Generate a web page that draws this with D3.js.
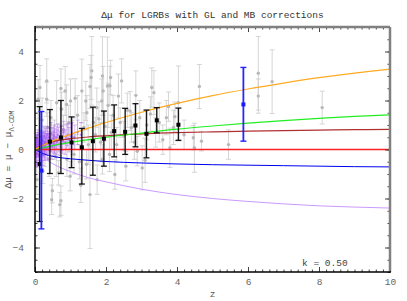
<!DOCTYPE html>
<html>
<head>
<meta charset="utf-8">
<script src="https://cdn.jsdelivr.net/npm/d3@7"></script>
<style>
  body { margin: 0; background: #fff; }
  svg text { font-family: "Liberation Mono", "DejaVu Sans Mono", monospace; }
</style>
</head>
<body>
<svg id="chart"></svg>
<script>
// model curves
const curveZ      = [0, 0.1, 0.25, 0.5, 0.75, 1, 1.5, 2, 3, 4, 5, 6, 7, 8, 9, 10];
const orangeMu    = [0, 0.08, 0.19, 0.35, 0.49, 0.62, 0.87, 1.10, 1.52, 1.88, 2.20, 2.47, 2.71, 2.93, 3.12, 3.28];
const greenMu     = [0, 0.03, 0.08, 0.16, 0.23, 0.29, 0.40, 0.50, 0.67, 0.83, 0.96, 1.08, 1.18, 1.27, 1.35, 1.41];
const brownMu     = [0, 0.10, 0.20, 0.32, 0.39, 0.44, 0.51, 0.56, 0.64, 0.69, 0.72, 0.75, 0.77, 0.79, 0.81, 0.82];
const redMu       = [0, 0, 0, 0, 0, 0, 0, 0, 0, 0, 0, 0, 0, 0, 0, 0];
const blueMu      = [0, -0.08, -0.18, -0.28, -0.34, -0.38, -0.44, -0.49, -0.55, -0.59, -0.62, -0.64, -0.66, -0.68, -0.70, -0.71];
const violetMu    = [0, -0.14, -0.35, -0.58, -0.76, -0.90, -1.15, -1.32, -1.62, -1.84, -2.00, -2.12, -2.22, -2.30, -2.35, -2.39];

// individual GRBs (gray)
const grayZ   = [0.03, 0.05, 0.09, 0.14, 0.22, 0.33, 0.33, 0.35, 0.45, 0.49, 0.47, 0.55, 0.61, 0.66, 0.70, 0.73, 0.73, 0.75, 0.80, 0.85,
                 0.89, 0.95, 0.99, 1.00, 1.05, 1.13, 1.20, 1.25, 1.29, 1.32, 1.38, 1.43, 1.46, 1.50, 1.55, 1.55, 1.58, 1.60, 1.65, 1.70,
                 1.74, 1.75, 1.80, 1.85, 1.88, 1.90, 1.92, 1.97, 2.04, 2.06, 2.11, 2.13, 2.15, 2.20, 2.25, 2.30, 2.35, 2.40, 2.44, 2.50,
                 2.56, 2.60, 2.68, 2.72, 2.80, 2.84, 2.88, 2.95, 3.02, 3.10, 3.15, 3.25, 3.29, 3.35, 3.40, 3.50, 3.60, 3.70, 3.76, 3.80,
                 3.90, 3.94, 4.04, 4.20, 4.46, 4.49, 4.63, 4.69, 5.45, 6.29, 6.29, 6.68, 8.09, 0.10, 0.20, 0.28, 0.40, 0.60, 0.90, 1.10,
                 1.45, 1.90, 2.10];
const grayMu  = [-0.70, -1.23, 2.05, 2.53, -0.89, 2.80, 2.05, 0.90, 1.30, -1.68, -2.05, 0.40, 1.91, -0.95, -2.25, -2.09, 2.49, 1.64, 0.80, 2.39,
                 1.84, 1.10, -1.09, 1.98, 0.50, 2.09, 1.40, -0.50, -1.46, 2.39, 0.90, 1.98, 1.50, 0.20, -1.84, 2.57, 2.94, 3.21, 1.10, 0.60,
                 1.71, -1.23, 1.25, 0.30, 1.98, 3.00, 2.39, 0.95, 2.59, 1.80, 2.60, 2.94, 0.70, 1.40, -1.02, 0.20, 2.18, 1.10, 2.80, 0.55,
                 -0.68, 1.60, 1.57, 0.90, 0.30, 2.21, -0.07, 1.30, -0.75, -0.44, 1.00, 1.45, 2.53, 2.32, 0.70, 1.10, 0.40, 1.30, 1.75, 0.07,
                 0.90, 1.34, 1.91, 0.60, 0.48, 0.07, 2.57, 0.34, 0.20, 3.11, 2.18, 2.77, 1.71, 0.60, 1.20, 0.10, -0.40, -0.30, -0.40, -0.20,
                 -0.60, -0.40, -0.20];
const grayErr = [0.5, 0.6, 0.8, 0.9, 0.5, 0.9, 0.7, 0.6, 0.7, 0.5, 0.6, 0.8, 0.9, 0.5, 0.5, 0.6, 0.8, 0.7, 0.6, 1.0,
                 0.8, 0.7, 0.6, 0.9, 0.7, 0.8, 0.8, 0.7, 0.7, 1.3, 0.6, 0.8, 0.7, 0.8, 2.2, 0.9, 0.9, 1.4, 0.6, 0.7,
                 0.8, 0.6, 0.7, 0.8, 0.9, 1.6, 1.0, 0.6, 2.0, 0.9, 0.8, 0.7, 0.7, 0.8, 0.6, 0.7, 0.9, 0.6, 0.9, 0.6,
                 0.6, 0.7, 0.8, 0.6, 0.7, 1.0, 0.6, 0.7, 0.9, 0.9, 0.6, 0.7, 0.8, 0.9, 0.6, 0.8, 0.6, 0.7, 0.6, 0.8,
                 0.7, 0.6, 1.5, 0.6, 0.5, 1.0, 0.9, 0.4, 0.6, 1.5, 0.7, 1.3, 0.67, 0.9, 0.9, 0.8, 0.7, 0.8, 0.7, 0.8,
                 0.6, 0.6, 0.7];

// low-z calibrators (violet)
const violetZ   = [0.01, 0.015, 0.02, 0.025, 0.03, 0.035, 0.04, 0.045, 0.05, 0.06, 0.07, 0.08, 0.09, 0.10, 0.11, 0.12, 0.13, 0.14, 0.15, 0.16,
                   0.17, 0.18, 0.19, 0.20, 0.21, 0.22, 0.23, 0.24, 0.25, 0.26, 0.27, 0.28, 0.30, 0.31, 0.32, 0.34, 0.35, 0.37, 0.38, 0.40,
                   0.42, 0.43, 0.45, 0.46, 0.48, 0.50, 0.52, 0.53, 0.55, 0.57, 0.60, 0.62, 0.64, 0.67, 0.70, 0.73, 0.75, 0.78, 0.81, 0.85,
                   0.88, 0.92, 0.96, 1.01, 1.05, 1.12, 1.20, 1.30];
const violetPtMu = [0.05, -0.20, 0.25, -0.10, 0.15, 0.40, -0.30, 0.10, 0.30, -0.15, 0.20, 0.45, -0.05, 0.10, 0.35, -0.25, 0.15, 0.05, 0.50, -0.10,
                   0.25, 0.30, 0.00, 0.40, 0.15, -0.20, 0.35, 0.10, 0.55, 0.20, -0.05, 0.30, 0.45, 0.10, 0.25, 0.60, 0.05, 0.35, 0.20, 0.50,
                   0.15, 0.40, 0.30, 0.65, 0.10, 0.45, 0.25, 0.55, 0.35, 0.20, 0.50, 0.30, 0.60, 0.40, 0.25, 0.55, 0.45, 0.35, 0.70, 0.30,
                   0.50, 0.60, 0.40, 0.55, 0.65, 0.50, 0.70, 0.60];
const violetErr = [0.35, 0.40, 0.30, 0.45, 0.35, 0.30, 0.40, 0.35, 0.30, 0.45, 0.40, 0.35, 0.40, 0.30, 0.35, 0.45, 0.40, 0.35, 0.30, 0.40,
                   0.35, 0.40, 0.45, 0.35, 0.40, 0.45, 0.35, 0.40, 0.40, 0.45, 0.40, 0.45, 0.40, 0.45, 0.40, 0.35, 0.45, 0.40, 0.45, 0.40,
                   0.50, 0.45, 0.40, 0.45, 0.50, 0.45, 0.50, 0.45, 0.50, 0.50, 0.45, 0.50, 0.45, 0.50, 0.50, 0.45, 0.50, 0.50, 0.45, 0.50,
                   0.50, 0.45, 0.50, 0.50, 0.45, 0.50, 0.50, 0.50];

// binned means (black)
const binZ  = [0.13, 0.42, 0.73, 1.03, 1.32, 1.63, 1.94, 2.23, 2.54, 2.83, 3.14, 3.43, 4.04];
const binMu = [-0.59, 0.32, 0.49, 0.29, 0.09, 0.34, 0.44, 0.75, 0.72, 0.98, 0.64, 1.19, 1.01];
const binLo = [-2.94, -0.98, -0.98, -0.74, -1.41, -1.05, -0.68, -0.30, -0.20, 0.11, -0.34, 0.68, 0.37];
const binHi = [1.75, 1.63, 2.00, 1.33, 0.86, 1.73, 1.57, 1.82, 1.68, 1.87, 1.61, 1.71, 1.69];

// blue points
const blueZ  = [0.18, 5.87];
const bluePt = [-0.86, 1.84];
const blueLo = [-3.24, 0.34];
const blueHi = [1.55, 3.35];

const xTicks = [0, 2, 4, 6, 8, 10];
const yTicks = [-4, -2, 0, 2, 4];

const width = 407, height = 301;
const margin = {top: 27, right: 17, bottom: 29, left: 35};
const w = width - margin.left - margin.right;
const h = height - margin.top - margin.bottom;

const svg = d3.select('#chart').attr('width', width).attr('height', height);
const g = svg.append('g').attr('transform', `translate(${margin.left},${margin.top})`);

const x = d3.scaleLinear().domain([0, 10]).range([0, w]);
const y = d3.scaleLinear().domain([-5, 5]).range([h, 0]);

g.append('clipPath').attr('id', 'clip').append('rect').attr('width', w).attr('height', h);
const plot = g.append('g').attr('clip-path', 'url(#clip)');

// error bar helper
function errorBars(layer, pts, opts) {
  const grp = layer.append('g');
  grp.selectAll('line.v').data(pts).join('line')
    .attr('x1', d => x(d.z)).attr('x2', d => x(d.z))
    .attr('y1', d => y(d.lo)).attr('y2', d => y(d.hi))
    .attr('stroke', opts.color).attr('stroke-width', opts.sw).attr('stroke-opacity', opts.op);
  ['lo', 'hi'].forEach(k => {
    grp.selectAll('line.' + k).data(pts).join('line')
      .attr('x1', d => x(d.z) - opts.cap).attr('x2', d => x(d.z) + opts.cap)
      .attr('y1', d => y(d[k])).attr('y2', d => y(d[k]))
      .attr('stroke', opts.color).attr('stroke-width', opts.capw || 1).attr('stroke-opacity', opts.op);
  });
  return grp;
}

// gray GRBs
const grayData = grayZ.map((z, i) => ({z, mu: grayMu[i], lo: grayMu[i] - grayErr[i], hi: grayMu[i] + grayErr[i]}));
errorBars(plot, grayData, {color: '#cccccc', sw: 1, cap: 2.5, op: 0.8});
plot.append('g').selectAll('circle').data(grayData).join('circle')
  .attr('cx', d => x(d.z)).attr('cy', d => y(d.mu)).attr('r', 1.7)
  .attr('fill', '#b8b8b8');

// violet low-z set
const violetData = violetZ.map((z, i) => ({z, mu: violetPtMu[i], lo: violetPtMu[i] - violetErr[i], hi: violetPtMu[i] + violetErr[i]}));
errorBars(plot, violetData, {color: '#a050f0', sw: 1, cap: 2, op: 0.4});
plot.append('g').selectAll('circle').data(violetData).join('circle')
  .attr('cx', d => x(d.z)).attr('cy', d => y(d.mu)).attr('r', 1.2)
  .attr('fill', '#9a4cf0').attr('fill-opacity', 0.55);

// model curves
const line = d3.line().x(d => x(d[0])).y(d => y(d[1])).curve(d3.curveMonotoneX);
const curves = [
  {mu: violetMu, color: '#cc99ff', sw: 1},
  {mu: blueMu,   color: '#0000ee', sw: 1},
  {mu: redMu,    color: '#ff2020', sw: 1.6},
  {mu: brownMu,  color: '#b03030', sw: 1.2},
  {mu: greenMu,  color: '#22ee22', sw: 1.2},
  {mu: orangeMu, color: '#ffaa22', sw: 1.2}
];
curves.forEach(c => {
  plot.append('path')
    .datum(curveZ.map((z, i) => [z, c.mu[i]]))
    .attr('d', line).attr('fill', 'none')
    .attr('stroke', c.color).attr('stroke-width', c.sw);
});

// binned means
const binData = binZ.map((z, i) => ({z, mu: binMu[i], lo: binLo[i], hi: binHi[i]}));
errorBars(plot, binData, {color: '#000', sw: 1.4, cap: 3, capw: 1.3, op: 0.9});
plot.append('g').selectAll('rect').data(binData).join('rect')
  .attr('x', d => x(d.z) - 2).attr('y', d => y(d.mu) - 2).attr('width', 4).attr('height', 4)
  .attr('fill', '#000');

// blue points
const blueData = blueZ.map((z, i) => ({z, mu: bluePt[i], lo: blueLo[i], hi: blueHi[i]}));
errorBars(plot, blueData, {color: '#1a1aff', sw: 1.8, cap: 3, capw: 1.4, op: 0.95});
plot.append('g').selectAll('rect').data(blueData).join('rect')
  .attr('x', d => x(d.z) - 2).attr('y', d => y(d.mu) - 2).attr('width', 4).attr('height', 4)
  .attr('fill', '#1a1aff');

// axes: majors with labels, minors without, ticks pointing inward on all sides
function styleAxis(sel) {
  sel.select('.domain').remove();
  sel.selectAll('line').attr('stroke', '#444');
  sel.selectAll('text').attr('fill', '#666').style('font-size', '9.5px');
}
g.append('g').attr('transform', `translate(0,${h})`)
  .call(d3.axisBottom(x).tickValues(xTicks).tickSizeInner(-5).tickSizeOuter(0).tickPadding(6).tickFormat(d3.format('d')))
  .call(styleAxis);
g.append('g').attr('transform', `translate(0,${h})`)
  .call(d3.axisBottom(x).tickValues(d3.range(0, 10.01, 0.2)).tickSizeInner(-2.5).tickSizeOuter(0).tickFormat(''))
  .call(styleAxis);
g.append('g')
  .call(d3.axisTop(x).tickValues(xTicks).tickSizeInner(-5).tickSizeOuter(0).tickFormat(''))
  .call(styleAxis);
g.append('g')
  .call(d3.axisTop(x).tickValues(d3.range(0, 10.01, 0.2)).tickSizeInner(-2.5).tickSizeOuter(0).tickFormat(''))
  .call(styleAxis);
g.append('g')
  .call(d3.axisLeft(y).tickValues(yTicks).tickSizeInner(-5).tickSizeOuter(0).tickPadding(11).tickFormat(d => d < 0 ? '\u2212' + Math.abs(d) : d))
  .call(styleAxis);
g.append('g')
  .call(d3.axisLeft(y).tickValues(d3.range(-5, 5.01, 0.5)).tickSizeInner(-2.5).tickSizeOuter(0).tickFormat(''))
  .call(styleAxis);
g.append('g').attr('transform', `translate(${w},0)`)
  .call(d3.axisRight(y).tickValues(yTicks).tickSizeInner(-5).tickSizeOuter(0).tickFormat(''))
  .call(styleAxis);
g.append('g').attr('transform', `translate(${w},0)`)
  .call(d3.axisRight(y).tickValues(d3.range(-5, 5.01, 0.5)).tickSizeInner(-2.5).tickSizeOuter(0).tickFormat(''))
  .call(styleAxis);

// frame
g.append('line').attr('x1', 0).attr('x2', w).attr('y1', 0).attr('y2', 0).attr('stroke', '#808080').attr('stroke-width', 2.5);
g.append('line').attr('x1', w).attr('x2', w).attr('y1', 0).attr('y2', h).attr('stroke', '#808080').attr('stroke-width', 2.5);
g.append('line').attr('x1', 0).attr('x2', 0).attr('y1', -1).attr('y2', h).attr('stroke', '#000').attr('stroke-width', 1.5);
g.append('line').attr('x1', 0).attr('x2', w + 1).attr('y1', h).attr('y2', h).attr('stroke', '#000').attr('stroke-width', 1.5);

// title and labels
svg.append('text')
  .attr('x', margin.left + w / 2).attr('y', 18)
  .attr('text-anchor', 'middle').style('font-size', '9.5px').attr('fill', '#333')
  .text('\u0394\u03bc for LGRBs with GL and MB corrections');

svg.append('text')
  .attr('x', margin.left + w / 2).attr('y', 297)
  .attr('text-anchor', 'middle').style('font-size', '9.5px').attr('fill', '#555')
  .text('z');

const yl = svg.append('text')
  .attr('transform', `translate(11,${margin.top + h / 2}) rotate(-90)`)
  .attr('text-anchor', 'middle').style('font-size', '9.5px').attr('fill', '#555');
yl.append('tspan').text('\u0394\u03bc = \u03bc \u2212 \u03bc');
yl.append('tspan').attr('dy', 3).style('font-size', '7px').text('\u039b-CDM');

svg.append('text')
  .attr('x', 302).attr('y', 266)
  .style('font-size', '9.5px').attr('fill', '#444')
  .text('k = 0.50');
</script>
</body>
</html>
